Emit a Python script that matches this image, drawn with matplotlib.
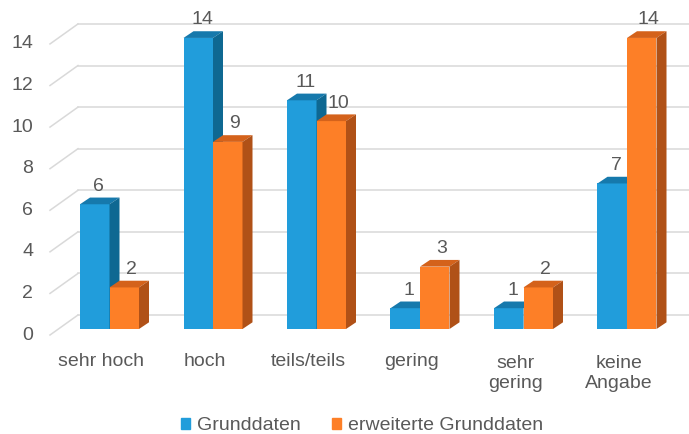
import matplotlib
matplotlib.use("Agg")
import matplotlib.pyplot as plt
from matplotlib.patches import Polygon, Rectangle

# ---- data ----
categories = ["sehr hoch", "hoch", "teils/teils", "gering", "sehr\ngering", "keine\nAngabe"]
grunddaten = [6, 14, 11, 1, 1, 7]
erweitert = [2, 9, 10, 3, 2, 14]
series_names = ["Grunddaten", "erweiterte Grunddaten"]
yticks = [0, 2, 4, 6, 8, 10, 12, 14]

# ---- style ----
plt.rcParams['font.family'] = ['Liberation Sans', 'DejaVu Sans']
TXT = '#595959'
GRID = '#d9d9d9'
FS = 14
colors = {
    'blue': ('#219ddb', '#1679ac', '#0e6892'),
    'orange': ('#fd7f27', '#d4621b', '#b05117'),
}

W, H = 689, 434
fig = plt.figure(figsize=(W / 100, H / 100), dpi=100)
ax = fig.add_axes([0, 0, 1, 1])

# pixel <-> data mapping (front plane of the bars)
X0, SX = 109.5, 103.5       # px of category 0 centre, px per category
Y0, SY = H - 329, 20.79     # bottom-up px of value 0, px per unit
ax.set_xlim((0 - X0) / SX, (W - X0) / SX)
ax.set_ylim((0 - Y0) / SY, (H - Y0) / SY)
ax.axis('off')


def dxp(p):
    return p / SX


def dyp(p):
    return p / SY


def xabs(p):
    return (p - X0) / SX


# ---- gridlines (back wall + floor diagonals) ----
for t in yticks:
    ax.plot([xabs(50), xabs(78)], [t - dyp(6), t + dyp(14)], color=GRID, lw=1.1, zorder=1)
    ax.plot([xabs(78), xabs(W)], [t + dyp(14), t + dyp(14)], color=GRID, lw=1.1, zorder=1)
    ax.text(xabs(33), t - dyp(6), str(t), ha='right', va='center', fontsize=FS, color=TXT)

# ---- bars ----
bw = 29.5 / SX
ddx, ddy = dxp(10), dyp(6.7)
xs = list(range(len(categories)))


def draw_series(offset, vals, cols, z, lab_dx):
    front, top, side = cols
    lefts = [x + offset - bw / 2 for x in xs]
    ax.bar([x + offset for x in xs], vals, bw, color=front, zorder=z, linewidth=0)
    for l, v in zip(lefts, vals):
        r = l + bw
        ax.add_patch(Polygon([(l, v), (r, v), (r + ddx, v + ddy), (l + ddx, v + ddy)],
                             closed=True, facecolor=top, edgecolor='none', zorder=z))
        ax.add_patch(Polygon([(r, 0), (r, v), (r + ddx, v + ddy), (r + ddx, ddy)],
                             closed=True, facecolor=side, edgecolor='none', zorder=z))
        ax.text(l + bw / 2 + dxp(lab_dx), v + dyp(13.5), str(v), ha='center', va='baseline',
                fontsize=FS, color=TXT, zorder=10)


draw_series(-bw / 2, grunddaten, colors['blue'], 3, 4)
draw_series(bw / 2, erweitert, colors['orange'], 4, 7)

# ---- category labels ----
LINE_PX = 22.0
for x, c in zip(xs, categories):
    n = c.count('\n')
    base_px = 366.5 + n * LINE_PX   # baseline of last line (screen px)
    ax.text(x - dxp(8), (H - base_px - Y0) / SY, c, ha='center', va='baseline',
            fontsize=FS, color=TXT, linespacing=1.3)

# ---- legend ----
handles = [Rectangle((0, 0), 1, 1, color=colors['blue'][0]),
           Rectangle((0, 0), 1, 1, color=colors['orange'][0])]
leg = fig.legend(handles, series_names, loc='center', ncol=2,
                 bbox_to_anchor=(362 / W, 1 - 426 / H), frameon=False,
                 fontsize=FS, handlelength=0.45, handleheight=0.45,
                 handletextpad=0.36, columnspacing=1.65, borderpad=0, borderaxespad=0)
for t in leg.get_texts():
    t.set_color(TXT)

fig.savefig('out.png', dpi=100)
